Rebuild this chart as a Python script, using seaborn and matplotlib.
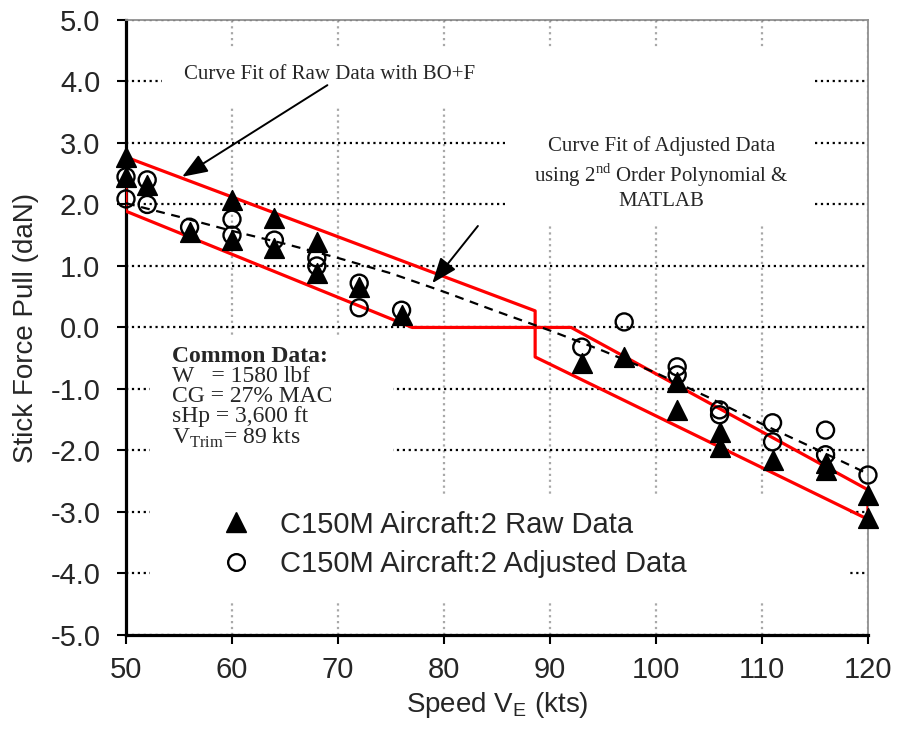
import matplotlib
matplotlib.use('Agg')
import matplotlib.pyplot as plt
from matplotlib.patches import Rectangle
from matplotlib.lines import Line2D
import seaborn as sns

# Raw flight test data (filled triangles)
raw_speed = [50, 50, 52, 56, 60, 60, 64, 64, 68, 68, 72, 76,
             93, 97, 102, 102, 106, 106, 111, 116, 116, 120, 120]
raw_force = [2.77, 2.45, 2.32, 1.55, 2.07, 1.42, 1.78, 1.29, 1.39, 0.89, 0.66, 0.20,
             -0.58, -0.48, -0.88, -1.34, -1.70, -1.94, -2.15, -2.21, -2.32, -2.72, -3.10]

# Adjusted data (open circles)
adj_speed = [50, 50, 52, 52, 56, 60, 60, 64, 68, 68, 72, 72, 76,
             93, 97, 102, 102, 106, 106, 111, 111, 116, 116, 120]
adj_force = [2.45, 2.09, 2.40, 2.00, 1.63, 1.76, 1.50, 1.42, 1.13, 1.00, 0.72, 0.32, 0.28,
             -0.32, 0.09, -0.64, -0.77, -1.34, -1.42, -1.55, -1.86, -1.67, -2.07, -2.40]

# 2nd order polynomial fit of adjusted data
fit_speed = [50, 55, 60, 65, 70, 75, 80, 85, 90, 95, 100, 105, 110, 115, 120]
fit_force = [2.02, 1.80, 1.57, 1.36, 1.13, 0.88, 0.58, 0.26, -0.05, -0.38, -0.74, -1.14,
             -1.57, -1.97, -2.38]

# BO+F envelope of raw data (red outline)
bof_speed = [50, 50, 88.6, 88.6, 120, 120, 92, 77, 50]
bof_force = [1.89, 2.77, 0.27, -0.48, -3.12, -2.64, 0.0, 0.0, 1.89]

x_ticks = [50, 60, 70, 80, 90, 100, 110, 120]
y_ticks = [-5.0, -4.0, -3.0, -2.0, -1.0, 0.0, 1.0, 2.0, 3.0, 4.0, 5.0]

sns.set_theme(style='white')
plt.rcParams['font.family'] = ['Liberation Sans', 'DejaVu Sans']
plt.rcParams['mathtext.fontset'] = 'custom'
plt.rcParams['mathtext.rm'] = 'Liberation Serif'
plt.rcParams['mathtext.sf'] = 'Liberation Sans'
plt.rcParams['axes.unicode_minus'] = False

fig, ax = plt.subplots(figsize=(9, 7.4), dpi=100)
fig.subplots_adjust(left=0.14, right=0.9644, top=0.973, bottom=0.142)

# white masks behind text boxes and legend (hide the grid like the original)
for (x0, y0, w, h) in [(0.0485, 0.8585, 0.503, 0.096), (0.511, 0.67, 0.415, 0.285),
                       (0.0323, 0.2276, 0.328, 0.26), (0.0323, 0.0569, 0.9434, 0.1707)]:
    ax.add_patch(Rectangle((x0, y0), w, h, transform=ax.transAxes,
                           facecolor='white', edgecolor='none', zorder=1))

sns.lineplot(x=bof_speed, y=bof_force, sort=False, estimator=None, color='#ff0000',
             lw=2.3, ax=ax, zorder=3)
sns.lineplot(x=fit_speed, y=fit_force, sort=False, estimator=None, color='black',
             lw=1.6, linestyle=(0, (4, 3)), ax=ax, zorder=3)
sns.scatterplot(x=raw_speed, y=raw_force, marker='^', s=200, color='black',
                edgecolor='black', ax=ax, zorder=4, clip_on=False)
sns.scatterplot(x=adj_speed, y=adj_force, marker='o', s=150, fc='none',
                ec='black', linewidth=1.7, ax=ax, zorder=5, clip_on=False)

ax.set_xlim(50, 120)
ax.set_ylim(-5, 5)
ax.set_xticks(x_ticks)
ax.set_yticks(y_ticks)
ax.set_yticklabels([f'{v:.1f}' for v in y_ticks])
ax.tick_params(axis='both', which='major', direction='out', length=6.5, width=1.5,
               color='black', labelsize=21, bottom=True, left=True)
ax.tick_params(axis='y', pad=12)
ax.tick_params(axis='x', pad=9)

ax.set_axisbelow(True)
ax.yaxis.grid(True, color='black', linestyle=':', lw=1.6)
ax.xaxis.grid(True, color='#a8a8a8', linestyle=':', lw=1.6)
for side in ['left', 'bottom']:
    ax.spines[side].set_color('black')
    ax.spines[side].set_linewidth(2.3)
for side in ['top', 'right']:
    ax.spines[side].set_color('#909090')
    ax.spines[side].set_linewidth(1.3)

ax.set_xlabel(r'Speed V$_\mathsf{E}$ (kts)', fontsize=20, labelpad=4)
ax.set_ylabel('Stick Force Pull (daN)', fontsize=20, labelpad=8)

serif = ['Liberation Serif', 'DejaVu Serif']
arrow_style = dict(arrowstyle='-|>,head_length=1.3,head_width=0.5',
                   color='black', lw=1.4, shrinkA=0, shrinkB=0)
ax.text(69.25, 4.12, 'Curve Fit of Raw Data with BO+F', family=serif, fontsize=15,
        ha='center', va='center', zorder=6)
ax.annotate('', xy=(55.3, 2.45), xytext=(69.0, 3.94), arrowprops=arrow_style, zorder=6)
ax.text(100.5, 2.5, 'Curve Fit of Adjusted Data\nusing 2$^{\\mathrm{nd}}$ Order Polynomial &\nMATLAB',
        family=serif, fontsize=15, ha='center', va='center', linespacing=1.25, zorder=6)
ax.annotate('', xy=(78.9, 0.72), xytext=(83.2, 1.65), arrowprops=arrow_style, zorder=6)

ax.text(54.3, -0.3, 'Common Data:', family=serif, fontsize=17, fontweight='bold',
        ha='left', va='top', zorder=6)
ax.text(54.3, -0.62, 'W   = 1580 lbf\nCG = 27% MAC\nsHp = 3,600 ft\nV$_{\\mathrm{Trim}}$= 89 kts',
        family=serif, fontsize=17, ha='left', va='top', linespacing=0.95, zorder=6)

handles = [Line2D([], [], marker='^', color='black', ls='none', markersize=14),
           Line2D([], [], marker='o', mfc='none', mec='black', mew=1.7, ls='none',
                  markersize=12)]
leg = ax.legend(handles, ['C150M Aircraft:2 Raw Data', 'C150M Aircraft:2 Adjusted Data'],
                loc='upper left', bbox_to_anchor=(0.107, 0.226), frameon=False,
                fontsize=21, handlelength=1.1, handletextpad=0.95, borderpad=0,
                labelspacing=0.4)

fig.savefig('out.png', dpi=100)
